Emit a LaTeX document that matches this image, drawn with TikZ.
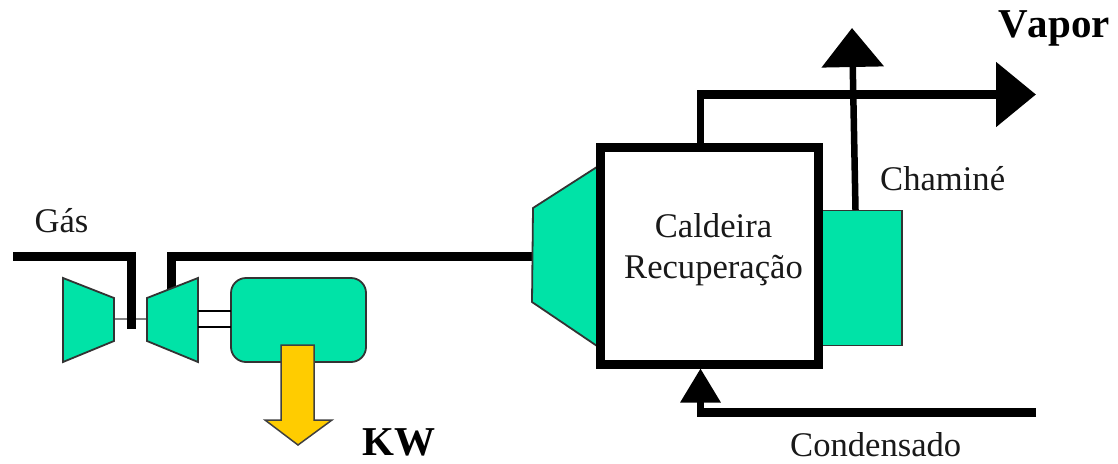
\documentclass[tikz,border=0pt]{standalone}
\usepackage{fontspec}
\setmainfont{Liberation Serif}
\usetikzlibrary{arrows.meta}
\definecolor{verdeagua}{HTML}{00E3A7}
\definecolor{amarelo}{HTML}{FFCC00}
\tikzset{
    tubo/.style={line width=9pt, miter limit=10},
    tubofino/.style={line width=6.5pt},
    equip/.style={draw=black!80, line width=1.8pt, fill=verdeagua, line join=miter},
    rotulo/.style={font=\fontsize{34.6}{40}\selectfont, anchor=base, inner sep=0pt, text=black!90},
    rotuloforte/.style={font=\fontsize{41}{46}\selectfont\bfseries\addfontfeatures{Kerning=Off}, anchor=base west, inner sep=0pt}
}
\begin{document}
\begin{tikzpicture}[x=1pt, y=-1pt]
    \useasboundingbox (0,0) rectangle (1118,463);

    % Pontos das linhas
    \coordinate (gasIni) at (13,256);
    \coordinate (gasCanto) at (131.5,256);
    \coordinate (gasFim) at (131.5,329);
    \coordinate (escFim) at (171.5,295);
    \coordinate (escCanto) at (171.5,256);
    \coordinate (escIni) at (534,256);
    \coordinate (eixoA) at (114,319);
    \coordinate (eixoB) at (147,319);

    % Eixo e linhas de gas
    \draw[gray, line width=1.5pt] (eixoA) -- (eixoB);
    \draw[tubo] (gasIni) -- (gasCanto) -- (gasFim);
    \draw[tubo] (escFim) -- (escCanto) -- (escIni);

    % Compressor e turbina
    \draw[equip] (63,278) -- (114,298) -- (114,341) -- (63,362) -- cycle;
    \draw[equip] (147,298) -- (198,278) -- (198,362) -- (147,341) -- cycle;

    % Gerador
    \node[equip, rounded corners=15pt, minimum width=135pt, minimum height=84pt, inner sep=0pt] (gerador) at (298.5,320) {};
    \foreach \i in {311,327} {
        \draw[line width=2.5pt] (198,\i) -- (231,\i); % Acoplamento
    }
    \draw[draw=black!75, line width=1.5pt, fill=amarelo] (281,345) -- (314,345) -- (314,420) -- (332,420) -- (298,445) -- (265,420) -- (281,420) -- cycle;

    % Caldeira
    \draw[equip] (533,208) -- (600,165) -- (600,348) -- (532,302) -- cycle;
    \node[equip, minimum width=84pt, minimum height=135pt, inner sep=0pt] (chamine) at (860,278) {};
    \node[draw, fill=white, line width=9pt, minimum width=218pt, minimum height=217pt, inner sep=0pt, outer sep=0pt] (caldeira) at (709,256) {};

    % Vapor
    \coordinate (vaporCanto) at (697.3,94.5);
    \coordinate (vaporFim) at (1036,94.5);
    \coordinate (vaporIni) at (700.5,143);
    \coordinate (vaporJoelho) at (700.5,94.5);
    \coordinate (chamineBase) at (855.5,210);
    \coordinate (chamineTopo) at (852,28);
    \draw[tubofino] (vaporIni) -- (vaporJoelho);
    \draw[tubo, -{Triangle[length=40pt,width=63pt]}] (vaporCanto) -- (vaporFim);
    \draw[tubofino, -{Triangle[length=39pt,width=61pt]}] (chamineBase) -- (chamineTopo);

    % Condensado
    \coordinate (condIni) at (1036,412);
    \coordinate (condCanto) at (697,412);
    \coordinate (condBase) at (700.5,414);
    \coordinate (condFim) at (700.5,368.5);
    \draw[tubo] (condIni) -- (condCanto);
    \draw[tubofino, -{Triangle[length=34pt,width=39pt]}] (condBase) -- (condFim);

    % Textos
    \node[rotulo] (gas) at (61.5,232) {Gás};
    \node[rotulo] (caldeiraTxt) at (713.5,237) {Caldeira};
    \node[rotulo] (recupTxt) at (713.5,278) {Recuperação};
    \node[rotulo, anchor=base west] (chamineTxt) at (880,190) {Chaminé};
    \node[rotulo, anchor=base west] (condTxt) at (790,456) {Condensado};
    \node[rotuloforte] (vapor) at (998,37) {Vapor};
    \node[rotuloforte] (kw) at (362,455) {KW};
\end{tikzpicture}
\end{document}
